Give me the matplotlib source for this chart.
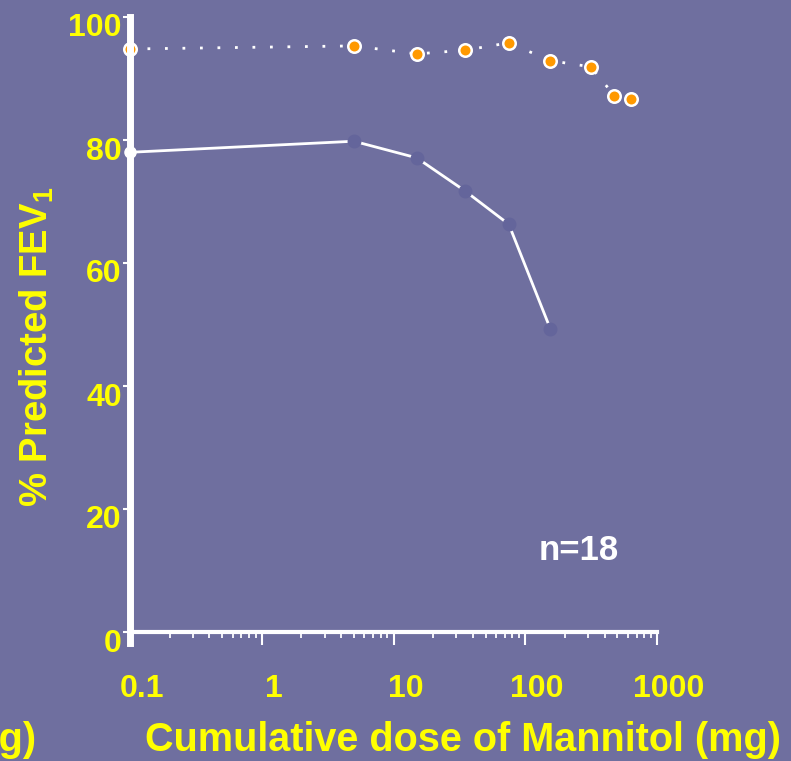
import matplotlib
matplotlib.use("Agg")
import matplotlib.pyplot as plt
import matplotlib.transforms as mtransforms
from matplotlib.ticker import LogLocator, NullFormatter, FixedLocator, FixedFormatter

plt.rcParams['font.family'] = ['Liberation Sans', 'DejaVu Sans']
plt.rcParams['font.weight'] = 'bold'
plt.rcParams['mathtext.fontset'] = 'custom'
plt.rcParams['mathtext.rm'] = 'Liberation Sans'
plt.rcParams['mathtext.bf'] = 'Liberation Sans:bold'

# Data
doses = [0, 5, 15, 35, 75, 155, 315, 475, 635]           # cumulative mannitol dose (mg)
fev_placebo = [94.8, 95.3, 94.0, 94.6, 95.8, 92.9, 91.9, 87.2, 86.6]
doses_asthma = [0, 5, 15, 35, 75, 155]
fev_asthma = [78.0, 79.8, 77.1, 71.7, 66.3, 49.3]
x_ticks = [0.1, 1, 10, 100, 1000]
x_ticklabels = ['0.1', '1', '10', '100', '1000']
y_ticks = [0, 20, 40, 60, 80, 100]

BG = '#6f6f9f'
YEL = '#ffff00'
DARK = '#64659b'
ORANGE = '#ff9900'

W, H = 791, 761
fig = plt.figure(figsize=(W / 100, H / 100), dpi=100, facecolor=BG)
ax = fig.add_axes([130 / W, 1 - 632 / H, 527 / W, 615 / H])
ax.set_facecolor(BG)
ax.set_xscale('log')
ax.set_xlim(0.1, 1000)
ax.set_ylim(0, 100)

xmin = ax.get_xlim()[0]
def xpos(d):
    return [v if v > 0 else xmin for v in d]

# dotted series
ax.plot(xpos(doses), fev_placebo, color='white', lw=2, linestyle=(0, (1, 5.3)),
        dash_capstyle='butt', zorder=3, clip_on=False)
ax.plot(xpos(doses), fev_placebo, linestyle='none', marker='o', ms=9,
        mfc=ORANGE, mec='white', mew=1.8, zorder=4, clip_on=False)

# solid series
ax.plot(xpos(doses_asthma), fev_asthma, color='white', lw=2, zorder=3, clip_on=False)
xa = xpos(doses_asthma)
ax.plot(xa[1:], fev_asthma[1:], linestyle='none', marker='o', ms=9,
        mfc=DARK, mec=DARK, zorder=4, clip_on=False)
ax.plot(xa[:1], fev_asthma[:1], linestyle='none', marker='o', ms=8,
        mfc='white', mec='white', zorder=6, clip_on=False)

# spines
for s in ['top', 'right']:
    ax.spines[s].set_visible(False)
ax.spines['left'].set_color('white')
ax.spines['left'].set_linewidth(5)
ax.spines['left'].set_zorder(5)
ax.spines['left'].set_bounds(-1.8, 100)
ax.spines['bottom'].set_color('white')
ax.spines['bottom'].set_linewidth(3)

# ticks
ax.xaxis.set_major_locator(FixedLocator(x_ticks))
ax.xaxis.set_major_formatter(FixedFormatter(x_ticklabels))
ax.xaxis.set_minor_locator(LogLocator(base=10, subs=range(2, 10)))
ax.xaxis.set_minor_formatter(NullFormatter())
ax.tick_params(axis='x', which='major', length=9, width=1.5, color='white',
               labelsize=23, labelcolor=YEL, pad=21)
ax.tick_params(axis='x', which='minor', length=4, width=1.3, color='white')
ax.set_yticks(y_ticks)
ax.tick_params(axis='y', which='major', length=5, width=1.5, color='white',
               labelsize=23, labelcolor=YEL, pad=1)

for lab in ax.get_xticklabels():
    lab.set_fontweight('bold')
    lab.set_transform(lab.get_transform() + mtransforms.ScaledTranslation(12 / 100, 0, fig.dpi_scale_trans))
for lab in ax.get_yticklabels():
    lab.set_fontweight('bold')
    lab.set_transform(lab.get_transform() + mtransforms.ScaledTranslation(0, -8 / 100, fig.dpi_scale_trans))

# labels
fig.text(463 / W, 1 - 740 / H, 'Cumulative dose of Mannitol (mg)', color=YEL,
         fontsize=28.5, fontweight='bold', ha='center', va='center')
fig.text(37 / W, 1 - 347 / H, r'% Predicted FEV$_\mathregular{1}$', color=YEL,
         fontsize=27.5, fontweight='bold', ha='center', va='center', rotation=90)
fig.text(36 / W, 1 - 740 / H, '(mg)', color=YEL,
         fontsize=28.5, fontweight='bold', ha='right', va='center')
fig.text(579 / W, 1 - 550 / H, 'n=18', color='white',
         fontsize=25, fontweight='bold', ha='center', va='center')

fig.savefig('out.png', dpi=100, facecolor=BG)
